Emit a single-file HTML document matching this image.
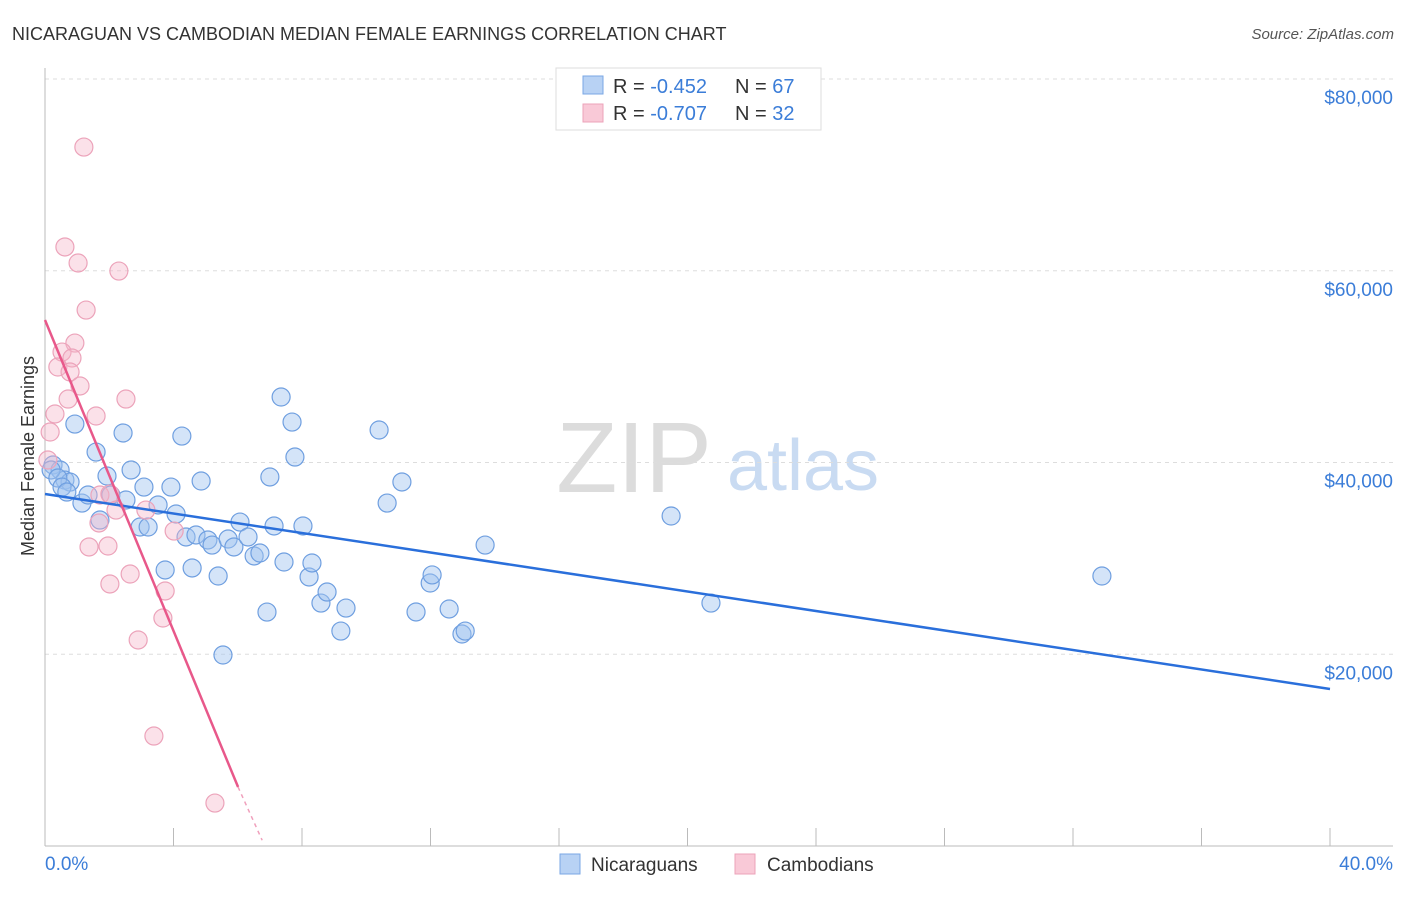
<!DOCTYPE html>
<html><head><meta charset="utf-8"><style>
body{margin:0;background:#fff;font-family:"Liberation Sans",sans-serif}
svg text{font-family:"Liberation Sans",sans-serif}
</style></head><body>
<svg id="chart" width="1406" height="892" xmlns="http://www.w3.org/2000/svg">
<text x="12" y="40" font-size="18" fill="#333">NICARAGUAN VS CAMBODIAN MEDIAN FEMALE EARNINGS CORRELATION CHART</text>
<text x="1394" y="39" font-size="15" fill="#555" text-anchor="end" font-style="italic">Source: ZipAtlas.com</text>
<g>
<text x="634" y="492" font-size="100" fill="#dcdcdc" text-anchor="middle" font-family="Liberation Serif,serif">ZIP</text>
<text x="803" y="490" font-size="72" fill="#c9dbf2" text-anchor="middle">atlas</text>
</g>
<g id="grid"></g>
<g id="axes"></g>
<g id="marks"></g>
<text transform="translate(34,456) rotate(-90)" font-size="18" fill="#333" text-anchor="middle">Median Female Earnings</text>
<g>
<rect x="556" y="68" width="265" height="62" fill="#fff" stroke="#ddd"/>
<rect x="583" y="76" width="20" height="18" fill="#b8d2f4" stroke="#7aa7e4"/>
<rect x="583" y="104" width="20" height="18" fill="#f9c9d7" stroke="#eca3ba"/>
<text x="613" y="93" font-size="20" fill="#333">R = <tspan fill="#3b7dd8">-0.452</tspan></text>
<text x="735" y="93" font-size="20" fill="#333">N = <tspan fill="#3b7dd8">67</tspan></text>
<text x="613" y="120" font-size="20" fill="#333">R = <tspan fill="#3b7dd8">-0.707</tspan></text>
<text x="735" y="120" font-size="20" fill="#333">N = <tspan fill="#3b7dd8">32</tspan></text>
</g>
<g>
<rect x="560" y="854" width="20" height="20" fill="#b8d2f4" stroke="#7aa7e4"/>
<text x="591" y="871" font-size="19" fill="#333">Nicaraguans</text>
<rect x="735" y="854" width="20" height="20" fill="#f9c9d7" stroke="#eca3ba"/>
<text x="767" y="871" font-size="19" fill="#333">Cambodians</text>
</g>
</svg>
<script>
const blueX=[0.25,0.47,0.62,0.78,0.93,1.15,1.34,1.59,1.71,1.93,2.05,2.43,2.52,2.68,2.96,3.08,3.21,3.52,3.74,3.92,4.08,4.26,4.39,4.58,4.70,4.86,5.07,5.20,5.39,5.54,5.70,5.88,6.07,6.32,6.51,6.69,6.91,7.00,7.13,7.44,7.35,7.69,7.78,8.03,8.22,8.31,8.59,8.78,9.21,9.37,10.40,10.65,11.11,11.55,11.99,12.05,12.58,12.98,13.08,13.70,19.49,20.73,32.90,0.19,0.40,0.53,0.68];
const blueY=[39740,39220,38170,37960,44010,35770,36610,41090,34000,38590,36610,43080,36090,39220,33270,37440,33270,35570,28790,37440,34630,42760,32230,29000,32440,38070,31920,31390,28160,19920,32020,31190,33790,32230,30250,30560,24400,38490,33380,29620,46830,44220,40570,33380,28060,29520,25340,26490,22420,24820,43390,35770,37970,24410,27430,28270,24720,22110,22420,31390,34420,25340,28160,39220,38380,37440,36920];
const pinkX=[1.21,0.62,1.03,2.30,1.28,0.93,0.53,0.84,0.40,0.78,1.09,0.72,2.52,0.31,1.59,0.16,0.09,1.71,2.02,2.21,3.14,1.68,4.02,1.37,1.96,2.65,2.02,3.74,3.67,2.90,3.39,5.29];
const pinkY=[72900,62480,60810,59970,55900,52460,51520,50900,49960,49440,47980,46620,46620,45060,44850,43180,40260,36610,36710,35040,35040,33690,32850,31190,31290,28370,27330,26600,23780,21490,11470,4480];
const yTicks=[20000,40000,60000,80000];
const yTickLabels=["$20,000","$40,000","$60,000","$80,000"];
const xTickLabels=["0.0%","40.0%"];
const blueTrend=[[0,36710],[40,16380]];
const pinkTrend=[[0,54860],[6.01,6150]];
const pinkDash=[[6.01,6150],[6.76,600]];
const NS="http://www.w3.org/2000/svg";
const sx=v=>45+v/40*1285;
const sy=v=>846-v/20000*191.75;
function mk(t,a,p){const e=document.createElementNS(NS,t);for(const k in a)e.setAttribute(k,a[k]);document.getElementById(p).appendChild(e);return e;}
yTicks.forEach((t,i)=>{
 const g=mk('line',{x1:45,x2:1393,y1:sy(t),y2:sy(t),stroke:'#ddd','stroke-dasharray':'4,4'},'grid');
 
 
 const l=mk('text',{x:1393,y:sy(t)+25,'font-size':19,fill:'#3b7dd8','text-anchor':'end'},'axes');
 l.textContent=yTickLabels[i];
 
 
});
const ax=mk('line',{x1:45,x2:45,y1:68,y2:846,stroke:'#bbb'},'axes');


const bx=mk('line',{x1:45,x2:1393,y1:846,y2:846,stroke:'#bbb'},'axes');


for(let i=0;i<=10;i++){const t=mk('line',{x1:sx(i*4),x2:sx(i*4),y1:828,y2:846,stroke:'#bbb'},'axes');
 
 }
[[0,'start',45],[40,'end',1393]].forEach((d,i)=>{const l=mk('text',{x:i?1393:45,y:870,'font-size':19,fill:'#3b7dd8','text-anchor':d[1]},'axes');l.textContent=xTickLabels[i];
 
 });
blueX.forEach((x,i)=>{const c=mk('circle',{cx:sx(x),cy:sy(blueY[i]),r:9,fill:'rgba(160,195,240,0.45)',stroke:'#6f9fe0','stroke-width':1.2},'marks');
 
 });
pinkX.forEach((x,i)=>{const c=mk('circle',{cx:sx(x),cy:sy(pinkY[i]),r:9,fill:'rgba(245,180,200,0.4)',stroke:'#eca3ba','stroke-width':1.2},'marks');
 
 });
const bl=mk('line',{x1:sx(blueTrend[0][0]),y1:sy(blueTrend[0][1]),x2:sx(blueTrend[1][0]),y2:sy(blueTrend[1][1]),stroke:'#2a6fdb','stroke-width':2.5},'marks');


const pl=mk('line',{x1:sx(pinkTrend[0][0]),y1:sy(pinkTrend[0][1]),x2:sx(pinkTrend[1][0]),y2:sy(pinkTrend[1][1]),stroke:'#e8588a','stroke-width':2.5},'marks');


const pd=mk('line',{x1:sx(pinkDash[0][0]),y1:sy(pinkDash[0][1]),x2:sx(pinkDash[1][0]),y2:sy(pinkDash[1][1]),stroke:'#f0a0bc','stroke-width':1.5,'stroke-dasharray':'4,4'},'marks');


</script>
</body></html>
